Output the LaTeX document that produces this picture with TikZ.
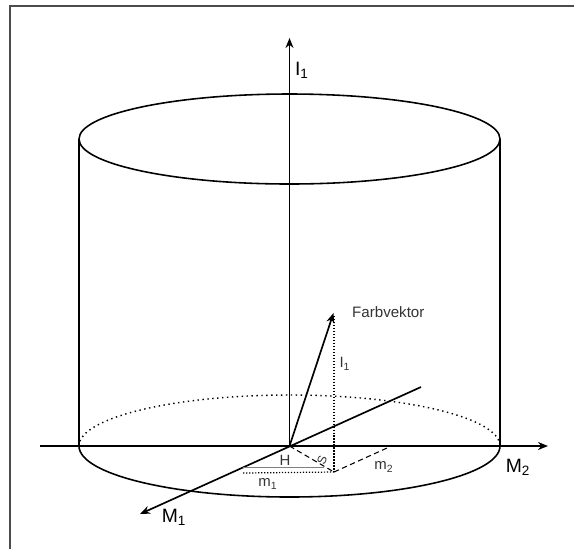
\documentclass[tikz,border=0pt]{standalone}
\usepackage{fontspec}
\setmainfont{Liberation Sans}
\usetikzlibrary{arrows.meta,positioning,calc}
\tikzset{
  axarr/.style={-{Stealth[length=2mm, width=1.6mm]}, line width=0.95pt},
  cyl/.style={line width=0.9pt},
  backl/.style={line width=0.8pt, dotted},
  auxl/.style={line width=0.7pt, densely dotted},
  hue/.style={line width=0.6pt, densely dashed},
  biglab/.style={font=\fontsize{11}{13}\selectfont},
  smlab/.style={font=\fontsize{8.5}{9}\selectfont, text=black!80},
}
\begin{document}
\begin{tikzpicture}[x=0.02cm, y=-0.02cm]
  \useasboundingbox (0,0) rectangle (574,549);
  % frame (left and top only)
  \draw[line width=0.6pt, black!70] (574,6) -- (10,6) -- (10,549);

  % cylinder
  \coordinate (O) at (289.5,446);
  \draw[cyl] (289.5,139) ellipse [x radius=210.5, y radius=45];
  \draw[cyl] (79,139) -- (79,446);
  \draw[cyl] (500,139) -- (500,446);
  \draw[cyl] (79,446) arc [start angle=180, end angle=360, x radius=210.5, y radius=-51];
  \draw[backl] (79,446) arc [start angle=180, end angle=0, x radius=210.5, y radius=-51];

  % axes
  \coordinate (I1end) at (289.5,38);
  \coordinate (M2beg) at (40,446);
  \coordinate (M2end) at (548,446);
  \coordinate (M1beg) at (421,387);
  \coordinate (M1end) at (140,514);
  \draw[axarr] (O) -- (I1end);
  \draw[axarr] (M2beg) -- (M2end);
  \draw[axarr] (M1beg) -- (M1end);
  \node[biglab] (lI) at (302,70) {I\textsubscript{1}};
  \node[biglab] (lM2) at (518,467) {M\textsubscript{2}};
  \node[biglab] (lM1) at (174,517) {M\textsubscript{1}};

  % colour vector and its components
  \coordinate (F) at (333.5,313);
  \coordinate (Fup) at (334,316);
  \coordinate (P) at (334,472);
  \coordinate (Pm1) at (243,473);
  \coordinate (Pm2) at (387,448);
  \draw[axarr] (O) -- (F);
  \node[font=\fontsize{8.6}{10}\selectfont, anchor=west, text=black!80] (lF) at (346,312) {Farbvektor};
  \draw[auxl] (Fup) -- (P);
  \draw[auxl] (P) -- (Pm1);
  \draw[hue] (P) -- (Pm2);
  \draw[hue] (O) -- (P);
  \draw[line width=0.4pt, black!50] (243,467) -- (324,467);
  \node[smlab] (lI1) at (345,364) {I\textsubscript{1}};
  \node[smlab] (lm1) at (268,484) {m\textsubscript{1}};
  \node[smlab] (lm2) at (384,467) {m\textsubscript{2}};
  \node[smlab] (lH) at (285,460) {H};
  \node[smlab, font=\fontsize{7}{8}\selectfont, rotate=70] (lS) at (322,460) {S};
\end{tikzpicture}
\end{document}
